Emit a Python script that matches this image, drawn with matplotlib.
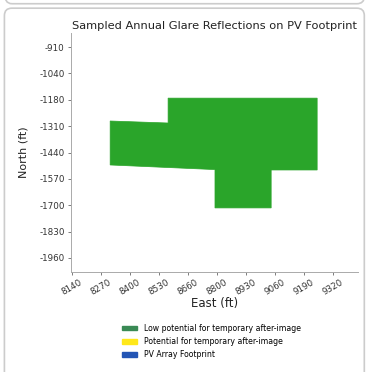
import matplotlib
matplotlib.use("Agg")
import matplotlib.pyplot as plt
import matplotlib.patches as mpatches
import numpy as np

# footprint outline (East, North) in ft
east = [8312, 8574, 8574, 9248, 9248, 9040, 9040, 8786, 8786, 8312]
north = [-1278, -1288, -1164, -1164, -1522, -1522, -1711, -1711, -1520, -1497]

xtick_labels = ['8140', '8270', '8400', '8530', '8660', '8800', '8930', '9060', '9190', '9320']
ytick_labels = ['-910', '-1040', '-1180', '-1310', '-1440', '-1570', '-1700', '-1830', '-1960']

legend_labels = ['Low potential for temporary after-image',
                 'Potential for temporary after-image',
                 'PV Array Footprint']
legend_colors = ['#3a8a55', '#ffe81a', '#2355b5']

plt.close("all")
fig = plt.figure(figsize=(3.68, 3.72), dpi=100)
fig.patch.set_facecolor('white')

# card border
card = mpatches.FancyBboxPatch((0.012, -0.02), 0.978, 0.998, boxstyle="round,pad=0,rounding_size=0.02",
                               transform=fig.transFigure, facecolor='none', edgecolor='#cccccc', lw=1.2, zorder=-1)
fig.patches.append(card)
top = mpatches.FancyBboxPatch((0.012, 0.99), 0.978, 0.05, boxstyle="round,pad=0,rounding_size=0.02",
                              transform=fig.transFigure, facecolor='none', edgecolor='#cccccc', lw=1.2, zorder=-1)
fig.patches.append(top)

ax = fig.add_axes([0.193, 0.269, 0.78, 0.642])
ax.patch.set_alpha(0)
ax.fill(east, north, color='#2aa52a', lw=0.5, edgecolor='#2aa52a')

xt = np.linspace(8140, 9320, len(xtick_labels))
yt = np.linspace(-910, -1960, len(ytick_labels))
ax.set_xticks(xt)
ax.set_xticklabels(xtick_labels, rotation=30, fontsize=6.3, color='#333333')
ax.set_yticks(yt)
ax.set_yticklabels(ytick_labels, fontsize=6.3, color='#333333')
ax.set_xlim(8135, 9433)
ax.set_ylim(-2030, -840)
ax.tick_params(length=2.5, width=0.6, colors='#666666', labelcolor='#333333', pad=2)

for s in ['top', 'right']:
    ax.spines[s].set_visible(False)
for s in ['left', 'bottom']:
    ax.spines[s].set_color('#aaaaaa')
    ax.spines[s].set_linewidth(0.7)

ax.set_title('Sampled Annual Glare Reflections on PV Footprint', fontsize=8.2, color='#222222', pad=3)
ax.set_xlabel('East (ft)', fontsize=8.5, color='#222222', labelpad=0)
ax.set_ylabel('North (ft)', fontsize=8, color='#222222', labelpad=8)

handles = [mpatches.Patch(color=c, label=l) for c, l in zip(legend_colors, legend_labels)]
fig.legend(handles=handles, loc='upper left', bbox_to_anchor=(0.32, 0.14), frameon=False,
           fontsize=5.6, handlelength=2.0, handleheight=0.5, labelspacing=0.55, borderpad=0,
           handletextpad=0.9)

fig.savefig("out.png", dpi=100)
